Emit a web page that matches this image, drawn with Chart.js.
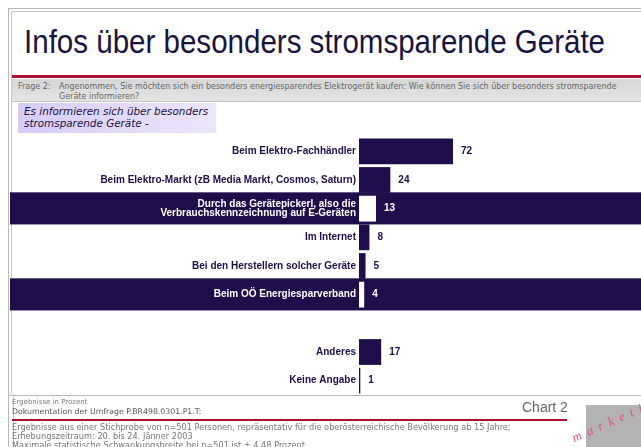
<!DOCTYPE html>
<html>
<head>
<meta charset="utf-8">
<title>Infos über besonders stromsparende Geräte</title>
<style>
html,body{margin:0;padding:0;background:#fff;}
body{width:641px;height:447px;position:relative;overflow:hidden;font-family:"DejaVu Sans",sans-serif;}
.frame{position:absolute;left:8px;top:8px;width:640px;height:386px;border:1px solid #b8b8b8;border-right:none;}
.frame2{position:absolute;left:11px;top:11px;width:640px;height:382px;border:1px solid #c8c8c8;border-right:none;border-bottom:none;}
.vl{position:absolute;left:8px;top:394px;width:4px;height:60px;border-left:1px solid #b8b8b8;border-right:1px solid #c8c8c8;}
h1{position:absolute;left:24px;top:22px;margin:0;font-family:"Liberation Sans",sans-serif;font-size:34px;font-weight:normal;color:#1a1240;white-space:nowrap;transform-origin:left top;}
.red{position:absolute;left:12px;top:75px;width:629px;height:3px;background:#a8122e;}
.frage{position:absolute;left:12px;top:79px;width:629px;height:22px;background:linear-gradient(#d6d6d6,#e4e4e4);border-bottom:1px solid #c4c4c4;font-size:8px;color:#666;}
.frage .k{position:absolute;left:6px;top:3px;}
.frage .t{position:absolute;left:47px;top:3px;line-height:9.5px;width:575px;}
.lila{position:absolute;left:18px;top:103px;width:198px;height:30px;background:linear-gradient(to right,#d7cbf5,#ece5fc);font-size:10.4px;font-style:italic;color:#1a1240;line-height:11.5px;}
.lila span{position:absolute;left:6px;top:3px;white-space:nowrap;}
#wrap{position:absolute;left:0;top:0;width:641px;height:447px;}
.f1{position:absolute;left:12px;top:398px;font-size:7px;color:#777;}
.f2{position:absolute;left:12px;top:407px;font-size:7.8px;color:#555;}
.chart2{position:absolute;left:522px;top:399px;font-family:"Liberation Sans",sans-serif;font-size:14px;color:#666;}
.red2{position:absolute;left:12px;top:419px;width:555px;height:2px;background:#a8122e;}
.f3{position:absolute;left:12px;top:423px;font-size:8.2px;color:#777;line-height:9px;white-space:nowrap;}
.logo{position:absolute;left:586px;top:405px;width:60px;height:50px;background:#b3b3b3;}
.mk{position:absolute;left:576px;top:430px;font-family:"Liberation Serif",serif;font-style:italic;font-size:13px;color:#e0507a;letter-spacing:6px;transform:rotate(-24deg);transform-origin:left bottom;white-space:nowrap;}
</style>
</head>
<body>
<div class="frame"></div>
<div class="frame2"></div>
<div class="vl"></div>
<h1 id="title">Infos über besonders stromsparende Geräte</h1>
<div class="red"></div>
<div class="frage"><span class="k">Frage 2:</span><span class="t">Angenommen, Sie möchten sich ein besonders energiesparendes Elektrogerät kaufen: Wie können Sie sich über besonders stromsparende Geräte informieren?</span></div>
<div class="lila"><span>Es informieren sich über besonders<br>stromsparende Geräte -</span></div>
<div id="wrap"><canvas id="c" width="641" height="447"></canvas></div>
<div class="f1">Ergebnisse in Prozent</div>
<div class="f2">Dokumentation der Umfrage P.BR498.0301.P1.T:</div>
<div class="chart2">Chart 2</div>
<div class="red2"></div>
<div class="f3">Ergebnisse aus einer Stichprobe von n=501 Personen, repräsentativ für die oberösterreichische Bevölkerung ab 15 Jahre;<br>Erhebungszeitraum: 20. bis 24. Jänner 2003<br>Maximale statistische Schwankungsbreite bei n=501 ist ± 4,48 Prozent</div>
<div class="logo"></div>
<div class="mk">marketing</div>
<script src="https://cdn.jsdelivr.net/npm/chart.js"></script>
<script>
const categories = [
  'Beim Elektro-Fachhändler',
  'Beim Elektro-Markt (zB Media Markt, Cosmos, Saturn)',
  ['Durch das Gerätepickerl, also die', 'Verbrauchskennzeichnung auf E-Geräten'],
  'Im Internet',
  'Bei den Herstellern solcher Geräte',
  'Beim OÖ Energiesparverband',
  '',
  'Anderes',
  'Keine Angabe'
];
const values = [72, 24, 13, 8, 5, 4, null, 17, 1];
const highlighted = [2, 5]; // rows on dark band

const navy = '#200d4c';
const isHi = i => highlighted.includes(i);

// title is a condensed face in the original, squeeze to its width
const t = document.getElementById('title');
t.style.transform = 'scaleX(' + (581 / t.offsetWidth) + ')';

// dark full-width bands behind highlighted rows (under labels and bars)
const bands = {
  id: 'bands',
  beforeDraw(chart){
    const {ctx} = chart;
    const y = chart.scales.y;
    const step = y.getPixelForValue(1) - y.getPixelForValue(0);
    ctx.save();
    ctx.fillStyle = navy;
    highlighted.forEach(i=>{
      const c = y.getPixelForValue(i);
      ctx.fillRect(10, c - step*0.57, chart.width, step*1.12);
    });
    ctx.restore();
  }
};

const valueLabels = {
  id: 'valueLabels',
  afterDatasetsDraw(chart){
    const {ctx} = chart;
    const meta = chart.getDatasetMeta(0);
    ctx.save();
    ctx.font = 'bold 10px "Liberation Sans", Arial, sans-serif';
    ctx.textBaseline = 'middle';
    meta.data.forEach((bar,i)=>{
      if(values[i] == null) return;
      ctx.fillStyle = isHi(i) ? '#fff' : navy;
      ctx.fillText(String(values[i]), bar.x + 8, bar.y);
    });
    ctx.restore();
  }
};

new Chart(document.getElementById('c'), {
  type: 'bar',
  data: {
    labels: categories,
    datasets: [{
      data: values,
      backgroundColor: values.map((v,i)=> isHi(i) ? '#ffffff' : navy),
      borderWidth: 0,
      categoryPercentage: 1,
      barPercentage: 0.9
    }]
  },
  options: {
    indexAxis: 'y',
    responsive: false,
    animation: false,
    layout: {padding: {top: 137, bottom: 52, left: 0, right: 0}},
    plugins: {legend: {display: false}, tooltip: {enabled: false}},
    scales: {
      x: {display: false, min: 0, max: 216},
      y: {
        afterFit(scale){ scale.width = 359; },
        grid: {display: false, drawTicks: false},
        border: {display: false},
        ticks: {
          padding: 3,
          autoSkip: false,
          color: ctx => isHi(ctx.index) ? '#ffffff' : navy,
          font: {family: '"Liberation Sans", Arial, sans-serif', size: 10, weight: 'bold', lineHeight: 0.95}
        }
      }
    }
  },
  plugins: [bands, valueLabels]
});
</script>
</body>
</html>
